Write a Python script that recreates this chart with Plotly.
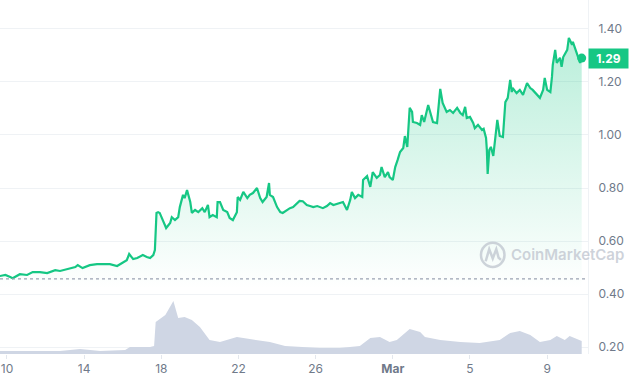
import pandas as pd
import plotly.graph_objects as go

# ---- price series (USD) ----
price_times = [
    "2024-02-09 15:00", "2024-02-09 22:00", "2024-02-10 04:00", "2024-02-10 07:00", "2024-02-10 16:00",
    "2024-02-11 01:00", "2024-02-11 08:00", "2024-02-11 17:00", "2024-02-12 02:00", "2024-02-12 12:00",
    "2024-02-12 18:00", "2024-02-13 03:00", "2024-02-13 13:00", "2024-02-13 16:00", "2024-02-13 22:00",
    "2024-02-14 07:00", "2024-02-14 16:00", "2024-02-14 23:00", "2024-02-15 08:00", "2024-02-15 17:00",
    "2024-02-16 00:00", "2024-02-16 05:00", "2024-02-16 08:00", "2024-02-16 13:00", "2024-02-16 18:00",
    "2024-02-17 01:00", "2024-02-17 06:00", "2024-02-17 10:00", "2024-02-17 14:00", "2024-02-17 16:00",
    "2024-02-17 18:00", "2024-02-17 20:00", "2024-02-17 22:00", "2024-02-18 02:00", "2024-02-18 06:00",
    "2024-02-18 11:00", "2024-02-18 13:00", "2024-02-18 17:00", "2024-02-18 21:00", "2024-02-18 23:00",
    "2024-02-19 03:00", "2024-02-19 05:00", "2024-02-19 08:00", "2024-02-19 12:00", "2024-02-19 14:00",
    "2024-02-19 18:00", "2024-02-19 22:00", "2024-02-20 03:00", "2024-02-20 06:00", "2024-02-20 10:00",
    "2024-02-20 12:00", "2024-02-20 16:00", "2024-02-20 21:00", "2024-02-20 22:00", "2024-02-21 01:00",
    "2024-02-21 05:00", "2024-02-21 10:00", "2024-02-21 13:00", "2024-02-21 17:00", "2024-02-21 22:00",
    "2024-02-21 23:00", "2024-02-22 02:00", "2024-02-22 06:00", "2024-02-22 11:00", "2024-02-22 14:00",
    "2024-02-22 18:00", "2024-02-22 23:00", "2024-02-23 03:00", "2024-02-23 06:00", "2024-02-23 11:00",
    "2024-02-23 14:00", "2024-02-23 15:00", "2024-02-23 19:00", "2024-02-24 00:00", "2024-02-24 04:00",
    "2024-02-24 07:00", "2024-02-24 12:00", "2024-02-24 16:00", "2024-02-24 20:00", "2024-02-25 01:00",
    "2024-02-25 04:00", "2024-02-25 08:00", "2024-02-25 13:00", "2024-02-25 17:00", "2024-02-25 21:00",
    "2024-02-26 02:00", "2024-02-26 05:00", "2024-02-26 09:00", "2024-02-26 14:00", "2024-02-26 18:00",
    "2024-02-26 22:00", "2024-02-27 03:00", "2024-02-27 06:00", "2024-02-27 10:00", "2024-02-27 15:00",
    "2024-02-27 19:00", "2024-02-27 21:00", "2024-02-28 01:00", "2024-02-28 05:00", "2024-02-28 10:00",
    "2024-02-28 11:00", "2024-02-28 16:00", "2024-02-28 20:00", "2024-02-28 23:00", "2024-02-29 04:00",
    "2024-02-29 08:00", "2024-02-29 10:00", "2024-02-29 14:00", "2024-02-29 18:00", "2024-02-29 20:00",
    "2024-03-01 00:00", "2024-03-01 03:00", "2024-03-01 06:00", "2024-03-01 09:00", "2024-03-01 13:00",
    "2024-03-01 15:00", "2024-03-01 18:00", "2024-03-01 20:00", "2024-03-01 21:00", "2024-03-02 00:00",
    "2024-03-02 01:00", "2024-03-02 06:00", "2024-03-02 10:00", "2024-03-02 12:00", "2024-03-02 15:00",
    "2024-03-02 20:00", "2024-03-02 22:00", "2024-03-03 02:00", "2024-03-03 07:00", "2024-03-03 11:00",
    "2024-03-03 14:00", "2024-03-03 19:00", "2024-03-03 23:00", "2024-03-04 03:00", "2024-03-04 08:00",
    "2024-03-04 12:00", "2024-03-04 15:00", "2024-03-04 18:00", "2024-03-04 20:00", "2024-03-05 00:00",
    "2024-03-05 04:00", "2024-03-05 06:00", "2024-03-05 10:00", "2024-03-05 15:00", "2024-03-05 17:00",
    "2024-03-05 20:00", "2024-03-05 21:00", "2024-03-05 22:00", "2024-03-06 00:00", "2024-03-06 02:00",
    "2024-03-06 05:00", "2024-03-06 07:00", "2024-03-06 10:00", "2024-03-06 13:00", "2024-03-06 17:00",
    "2024-03-06 20:00", "2024-03-06 23:00", "2024-03-07 02:00", "2024-03-07 04:00", "2024-03-07 05:00",
    "2024-03-07 10:00", "2024-03-07 14:00", "2024-03-07 18:00", "2024-03-07 23:00", "2024-03-08 03:00",
    "2024-03-08 06:00", "2024-03-08 11:00", "2024-03-08 15:00", "2024-03-08 19:00", "2024-03-08 21:00",
    "2024-03-09 00:00", "2024-03-09 04:00", "2024-03-09 06:00", "2024-03-09 07:00", "2024-03-09 10:00",
    "2024-03-09 12:00", "2024-03-09 16:00", "2024-03-09 18:00", "2024-03-09 20:00", "2024-03-10 01:00",
    "2024-03-10 03:00", "2024-03-10 07:00", "2024-03-10 08:00", "2024-03-10 13:00", "2024-03-10 17:00",
    "2024-03-10 19:00",
]
price_values = [
    0.468, 0.472, 0.464, 0.460, 0.475,
    0.472, 0.483, 0.483, 0.479, 0.490,
    0.487, 0.494, 0.502, 0.509, 0.498,
    0.509, 0.513, 0.513, 0.513, 0.506,
    0.517, 0.528, 0.551, 0.532, 0.536,
    0.547, 0.540, 0.536, 0.547, 0.566,
    0.706, 0.709, 0.706, 0.679, 0.649,
    0.668, 0.690, 0.679, 0.690, 0.728,
    0.774, 0.762, 0.792, 0.747, 0.706,
    0.717, 0.709, 0.724, 0.709, 0.736,
    0.690, 0.698, 0.690, 0.747, 0.747,
    0.717, 0.709, 0.687, 0.679, 0.709,
    0.766, 0.755, 0.785, 0.762, 0.774,
    0.781, 0.800, 0.762, 0.747, 0.766,
    0.819, 0.774, 0.766, 0.728, 0.709,
    0.706, 0.717, 0.724, 0.728, 0.743,
    0.751, 0.750, 0.736, 0.732, 0.728,
    0.732, 0.728, 0.724, 0.732, 0.743,
    0.736, 0.740, 0.743, 0.747, 0.717,
    0.755, 0.785, 0.762, 0.774, 0.766,
    0.830, 0.845, 0.804, 0.860, 0.838,
    0.849, 0.879, 0.841, 0.860, 0.841,
    0.830, 0.879, 0.906, 0.936, 0.951,
    0.996, 0.955, 1.057, 1.102, 1.087,
    1.049, 1.045, 1.038, 1.075, 1.049,
    1.113, 1.094, 1.049, 1.045, 1.174,
    1.121, 1.087, 1.094, 1.083, 1.102,
    1.083, 1.075, 1.106, 1.064, 1.068,
    1.045, 1.026, 1.038, 1.019, 1.023,
    0.989, 0.943, 0.853, 0.943, 0.955,
    0.921, 0.974, 1.057, 0.996, 0.992,
    1.124, 1.140, 1.208, 1.162, 1.177,
    1.158, 1.170, 1.151, 1.196, 1.177,
    1.170, 1.151, 1.140, 1.170, 1.215,
    1.170, 1.162, 1.219, 1.264, 1.321,
    1.272, 1.291, 1.257, 1.294, 1.321,
    1.366, 1.340, 1.351, 1.309, 1.272,
    1.290,
]

# ---- volume series (relative units) ----
volume_times = [
    "2024-02-09 15:00", "2024-02-12 18:00", "2024-02-13 19:00", "2024-02-14 20:00", "2024-02-16 03:00",
    "2024-02-16 09:00", "2024-02-17 10:00", "2024-02-17 15:00", "2024-02-17 17:00", "2024-02-18 05:00",
    "2024-02-18 15:00", "2024-02-18 21:00", "2024-02-19 05:00", "2024-02-19 14:00", "2024-02-20 00:00",
    "2024-02-20 12:00", "2024-02-21 01:00", "2024-02-21 22:00", "2024-02-22 14:00", "2024-02-23 15:00",
    "2024-02-24 10:00", "2024-02-25 04:00", "2024-02-26 05:00", "2024-02-27 06:00", "2024-02-28 07:00",
    "2024-02-28 20:00", "2024-02-29 08:00", "2024-02-29 20:00", "2024-03-01 05:00", "2024-03-01 21:00",
    "2024-03-02 10:00", "2024-03-02 16:00", "2024-03-03 11:00", "2024-03-04 12:00", "2024-03-05 12:00",
    "2024-03-06 13:00", "2024-03-07 02:00", "2024-03-07 14:00", "2024-03-08 03:00", "2024-03-08 15:00",
    "2024-03-09 04:00", "2024-03-09 12:00", "2024-03-09 22:00", "2024-03-10 04:00", "2024-03-10 19:00",
]
volume_values = [
    3, 3, 5, 3, 4,
    7, 7, 8, 32, 39,
    53, 36, 37, 34, 27,
    14, 12, 17, 15, 12,
    8, 7, 6, 6, 8,
    16, 17, 12, 14, 25,
    22, 17, 14, 12, 11,
    14, 21, 23, 19, 12,
    14, 18, 14, 18, 13,
]

# ---- axis ticks ----
x_tick_dates = ["2024-02-10", "2024-02-14", "2024-02-18", "2024-02-22", "2024-02-26",
                "2024-03-01", "2024-03-05", "2024-03-09"]
x_tick_labels = ["10", "14", "18", "22", "26", "<b>Mar</b>", "5", "9"]
y_tick_values = [0.20, 0.40, 0.60, 0.80, 1.00, 1.20, 1.40]
open_price = 0.457
last_price = price_values[-1]

GREEN = "#16c784"
TICK_COLOR = "#707a8a"
GRID = "#eff2f5"
WATERMARK = "rgba(190,196,206,0.75)"

pt = pd.to_datetime(price_times)
vt = pd.to_datetime(volume_times)

fig = go.Figure()

fig.add_trace(go.Scatter(
    x=vt, y=volume_values, yaxis="y2", mode="lines",
    line=dict(width=0, color="#cfd6e4"), fill="tozeroy", fillcolor="#cfd6e4",
    hoverinfo="skip", showlegend=False,
))

fig.add_trace(go.Scatter(
    x=pt, y=price_values, mode="lines",
    line=dict(color=GREEN, width=2.2),
    fill="tozeroy",
    fillgradient=dict(type="vertical", start=0.42, stop=1.37,
                      colorscale=[[0, "rgba(22,199,132,0)"], [1, "rgba(22,199,132,0.30)"]]),
    showlegend=False,
))

fig.add_trace(go.Scatter(
    x=[pt[-1]], y=[last_price], mode="markers",
    marker=dict(color=GREEN, size=9), showlegend=False,
))

fig.update_layout(
    width=630, height=380,
    margin=dict(l=0, r=42, t=0, b=26, pad=0),
    paper_bgcolor="white", plot_bgcolor="white",
    font=dict(family="Inter, Roboto, sans-serif", size=12, color=TICK_COLOR),
    xaxis=dict(
        range=["2024-02-09 15:18", "2024-03-11 02:50"],
        tickvals=pd.to_datetime(x_tick_dates), ticktext=x_tick_labels,
        showgrid=False, zeroline=False, showline=False,
        ticks="outside", ticklen=4, tickcolor="#e3e7ed",
        tickfont=dict(size=12, color=TICK_COLOR),
    ),
    yaxis=dict(
        side="right", range=[0.174, 1.509],
        tickvals=y_tick_values, tickformat=".2f",
        showgrid=True, gridcolor=GRID, gridwidth=1,
        zeroline=False, showline=True, linecolor=GRID, linewidth=1,
        ticks="", ticklabelstandoff=7,
        tickfont=dict(size=12, color=TICK_COLOR),
    ),
    yaxis2=dict(
        overlaying="y", range=[0, 354], visible=False,
    ),
    shapes=[
        dict(type="line", xref="paper", x0=0, x1=1, yref="y", y0=open_price, y1=open_price,
             line=dict(color="#9aa3b2", width=1.2, dash="dot"), layer="above"),
        dict(type="circle", xref="paper", yref="paper",
             x0=0.818, x1=0.858, y0=0.246, y1=0.314,
             line=dict(color=WATERMARK, width=2.5), layer="above"),
        dict(type="path", xref="paper", yref="paper",
             path="M 0.826 0.262 L 0.832 0.296 L 0.838 0.270 L 0.844 0.296 L 0.848 0.272 L 0.852 0.266",
             line=dict(color=WATERMARK, width=2.5), layer="above"),
    ],
    annotations=[
        dict(xref="paper", yref="paper", x=0.866, y=0.280, xanchor="left", yanchor="middle",
             text="CoinMarketCap", showarrow=False,
             font=dict(family="Inter, sans-serif", size=15, color=WATERMARK, weight=600)),
        dict(xref="paper", yref="y", x=1, y=last_price, xanchor="left", yanchor="middle",
             text="<b>1.29</b>", showarrow=False, bgcolor=GREEN,
             font=dict(color="white", size=12, family="Inter, sans-serif"),
             width=35, height=15, borderpad=2),
    ],
)

fig.write_html("out.html", config={"displayModeBar": False},
               post_script="document.body.style.margin='0';document.body.style.padding='0';")
